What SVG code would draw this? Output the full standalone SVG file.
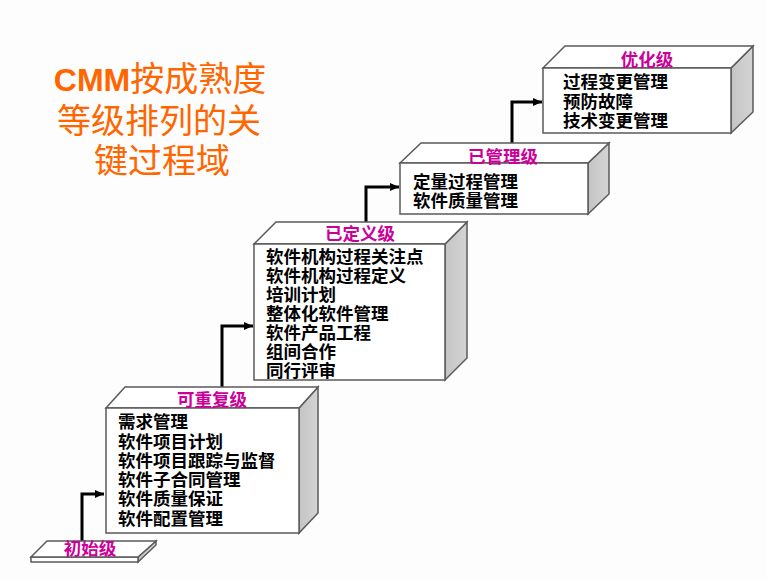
<svg xmlns="http://www.w3.org/2000/svg" width="767" height="580" viewBox="0 0 767 580">
<defs>
<linearGradient id="side" x1="0" y1="0" x2="1" y2="0">
<stop offset="0" stop-color="#c4c4c4"/>
<stop offset="1" stop-color="#d4d4d4"/>
</linearGradient>
<marker id="arr" markerUnits="userSpaceOnUse" markerWidth="10" markerHeight="10" refX="9" refY="5" orient="auto">
<path d="M0,1 L9,5 L0,9 Z" fill="#000"/>
</marker>
<style>
.face{fill:#fff;stroke:#5a5a5a;stroke-width:1.5}
.side{fill:url(#side);stroke:#5a5a5a;stroke-width:1.5}
.lvl{font-family:"Liberation Sans","Noto Sans CJK SC",sans-serif;font-weight:bold;font-size:17.5px;fill:#CC0099;text-anchor:middle}
.item{font-family:"Liberation Sans","Noto Sans CJK SC",sans-serif;font-weight:bold;font-size:17.5px;fill:#000}
.title{font-family:"Liberation Sans","Noto Sans CJK SC",sans-serif;font-size:34px;fill:#FF6600;text-anchor:middle}
.conn{fill:none;stroke:#000;stroke-width:3;marker-end:url(#arr)}
</style>
</defs>
<rect width="767" height="580" fill="#fdfdfd"/>

<g id="title">
<text class="title" x="160" y="91"><tspan font-weight="bold" font-size="32px">CMM</tspan>按成熟度</text>
<text class="title" x="159" y="133">等级排列的关</text>
<text class="title" x="162" y="173">键过程域</text>
</g>

<g id="connectors">
<path class="conn" d="M82,541 V494 H104"/>
<path class="conn" d="M222,387 V326 H253"/>
<path class="conn" d="M366,222 V187 H399"/>
<path class="conn" d="M512,143 V102 H542"/>
</g>

<g id="initial">
<polygon class="side" points="156,541 156,545 138,562 138,557"/>
<polygon class="face" points="31,557 138,557 138,562 31,562"/>
<polygon class="face" points="47,541 156,541 138,557 31,557"/>
<text class="lvl" x="90" y="555">初始级</text>
</g>

<g id="repeatable">
<polygon class="side" points="299,408 318,387 318,513 299,533"/>
<polygon class="face" points="106,408 125,387 318,387 299,408"/>
<rect class="face" x="106" y="408" width="193" height="125"/>
<text class="lvl" x="212" y="406">可重复级</text>
<text class="item" x="118" y="428">需求管理</text>
<text class="item" x="118" y="447.5">软件项目计划</text>
<text class="item" x="118" y="467">软件项目跟踪与监督</text>
<text class="item" x="118" y="486">软件子合同管理</text>
<text class="item" x="118" y="505">软件质量保证</text>
<text class="item" x="118" y="524.5">软件配置管理</text>
</g>

<g id="defined">
<polygon class="side" points="445,244 467,222 467,358 445,380"/>
<polygon class="face" points="254,244 276,222 467,222 445,244"/>
<rect class="face" x="254" y="244" width="191" height="136"/>
<text class="lvl" x="360" y="239.5">已定义级</text>
<text class="item" x="266" y="263">软件机构过程关注点</text>
<text class="item" x="266" y="282">软件机构过程定义</text>
<text class="item" x="266" y="301">培训计划</text>
<text class="item" x="266" y="320">整体化软件管理</text>
<text class="item" x="266" y="339">软件产品工程</text>
<text class="item" x="266" y="358">组间合作</text>
<text class="item" x="266" y="377">同行评审</text>
</g>

<g id="managed">
<polygon class="side" points="588,163 609,143 609,194 588,214"/>
<polygon class="face" points="400,163 421,143 609,143 588,163"/>
<rect class="face" x="400" y="163" width="188" height="51"/>
<text class="lvl" x="503" y="163">已管理级</text>
<text class="item" x="413" y="188">定量过程管理</text>
<text class="item" x="413" y="207">软件质量管理</text>
</g>

<g id="optimizing">
<polygon class="side" points="731,68 753,46 753,112 731,133"/>
<polygon class="face" points="543,68 565,46 753,46 731,68"/>
<rect class="face" x="543" y="68" width="188" height="65"/>
<text class="lvl" x="647" y="66">优化级</text>
<text class="item" x="563" y="88">过程变更管理</text>
<text class="item" x="563" y="108">预防故障</text>
<text class="item" x="563" y="127">技术变更管理</text>
</g>
</svg>
